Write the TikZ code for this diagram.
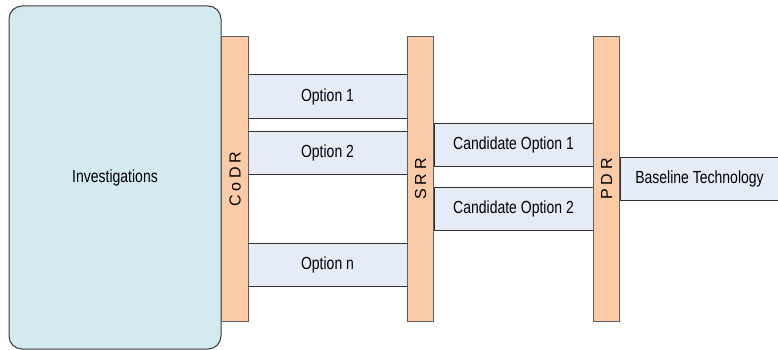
\documentclass[tikz,border=0pt]{standalone}
\usepackage{fontspec}
\setmainfont{Liberation Sans}
\newfontfamily\narrowfont{Liberation Sans}[FakeStretch=0.8]
\newfontfamily\spacedfont{Liberation Sans}[LetterSpace=24]
\definecolor{invfill}{HTML}{D3EBF0}
\definecolor{barfill}{HTML}{FACBA6}
\definecolor{optfill}{HTML}{E6ECF7}
\definecolor{bardraw}{HTML}{5E5E5E}
\definecolor{optdraw}{HTML}{2E2E2E}
\definecolor{invdraw}{HTML}{3A3A3A}
\begin{document}
\begin{tikzpicture}[x=1pt,y=-1pt,
  invbox/.style={draw=invdraw,fill=invfill,line width=1pt,rounded corners=13pt,
    minimum width=212pt,minimum height=343pt,inner sep=0pt,
    font=\narrowfont\fontsize{17.5}{20}\selectfont},
  optbox/.style={draw=optdraw,fill=optfill,line width=1pt,
    minimum width=159pt,minimum height=43pt,inner sep=0pt,
    font=\narrowfont\fontsize{17.5}{20}\selectfont},
  barbox/.style={draw=bardraw,fill=barfill,line width=1pt,
    minimum width=26.5pt,minimum height=284pt,inner sep=0pt},
  bartext/.style={rotate=90,inner sep=0pt,font=\spacedfont\fontsize{16}{18}\selectfont}]
\useasboundingbox (0,0) rectangle (778,350);
\clip (0,0) rectangle (778,350);
\node[invbox] (inv) at (115,177.5) {Investigations};
\node[optbox] (opt1) at (327.5,96.5) {Option 1};
\node[optbox] (opt2) at (327.5,152.5) {Option 2};
\node[optbox] (optn) at (327.5,265) {Option n};
\node[optbox] (cand1) at (513.5,144.5) {Candidate Option 1};
\node[optbox] (cand2) at (513.5,209) {Candidate Option 2};
\node[optbox] (base) at (699.5,178.5) {Baseline Technology};
\node[barbox] (codr) at (235,179) {};
\node[barbox] (srr) at (420.5,179) {};
\node[barbox] (pdr) at (606.5,179) {};
\node[bartext] (codrt) at (codr.center) {CoDR};
\node[bartext] (srrt) at (srr.center) {SRR};
\node[bartext] (pdrt) at (pdr.center) {PDR};
\end{tikzpicture}
\end{document}
